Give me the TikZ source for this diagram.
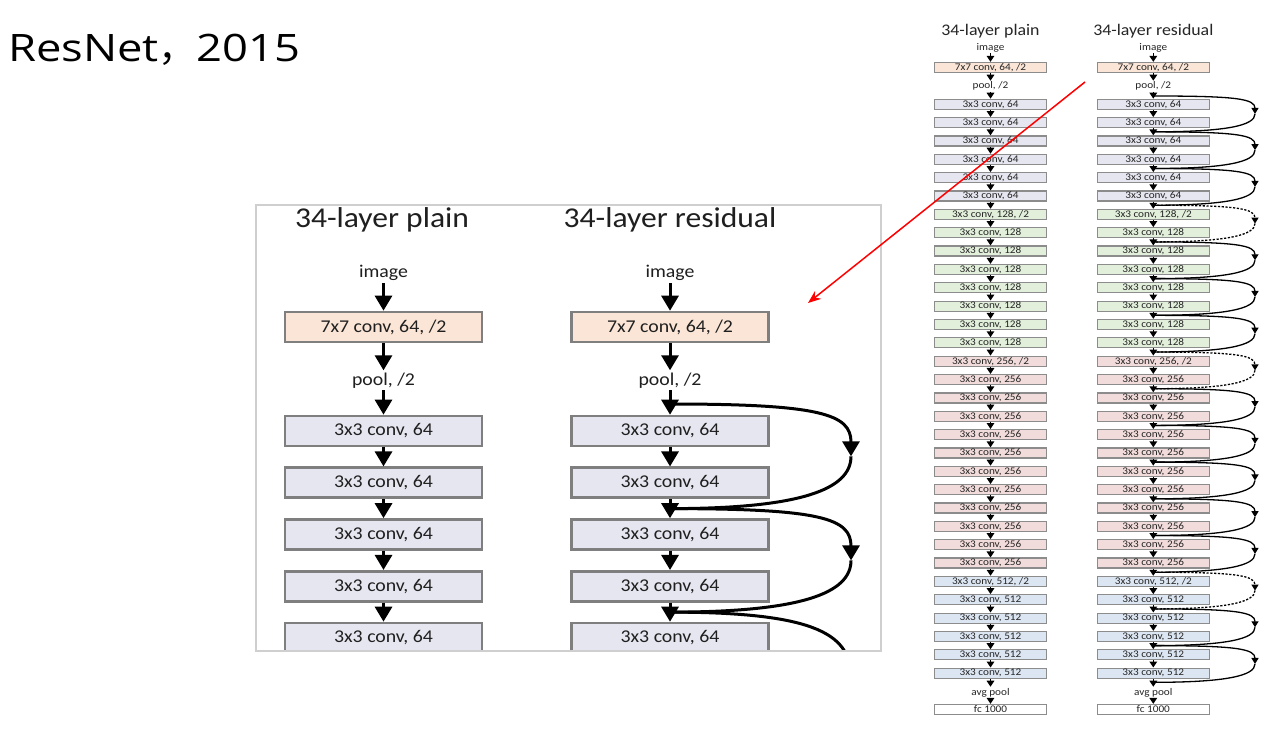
\documentclass[tikz,border=0pt]{standalone}
\usepackage{fontspec}
\usetikzlibrary{arrows.meta,calc}
\setmainfont{Carlito}
\newfontfamily\calfont[FakeStretch=1.1]{Carlito}
\newfontfamily\titlefont[FakeStretch=1.2]{Open Sans}
\newfontfamily\cjkfont{Noto Sans CJK SC}
\definecolor{bgray}{HTML}{7F7F7F}
\definecolor{framegray}{HTML}{CFCFCF}
\definecolor{cS}{HTML}{FBE5D6}
\definecolor{cA}{HTML}{E6E6F0}
\definecolor{cB}{HTML}{E2EFDA}
\definecolor{cC}{HTML}{F2DCDB}
\definecolor{cD}{HTML}{DCE6F2}
\begin{document}
\begin{tikzpicture}[x=1pt,y=-1pt,
  lbox/.style={draw=bgray, line width=2.6pt, minimum width=197pt, minimum height=30pt, inner sep=0pt, text=black!88, font=\calfont\fontsize{18}{20}\selectfont},
  llab/.style={inner sep=2pt, text=black!88, font=\calfont\fontsize{18}{20}\selectfont},
  ltitle/.style={inner sep=0pt, text=black!88, font=\calfont\fontsize{28.7}{32}\selectfont},
  larr/.style={line width=3pt, -{Triangle[width=17pt,length=15pt]}},
  lskip/.style={line width=3pt},
  ltip/.style={-{Triangle[width=17pt,length=15pt]}},
  sbox/.style={draw=bgray!90, line width=1.2pt, minimum width=112pt, minimum height=10pt, inner sep=0pt, text=black!85, font=\calfont\fontsize{10.2}{10}\selectfont},
  slab/.style={inner sep=1pt, text=black!85, font=\calfont\fontsize{10.2}{10}\selectfont},
  stitle/.style={inner sep=0pt, text=black!85, font=\calfont\fontsize{16.2}{18}\selectfont},
  sarr/.style={line width=1.6pt, -{Triangle[width=7.5pt,length=6pt]}},
  sskip/.style={line width=1.3pt},
  stip/.style={-{Triangle[width=7pt,length=6pt]}},
  nsk/.style={},
  dsk/.style={dash pattern=on 2.2pt off 1.6pt}
]
\useasboundingbox (0,0) rectangle (1267,730);
\fill[white] (0,0) rectangle (1267,730);

% main title
\node[anchor=base west, inner sep=0pt, font=\titlefont\fontsize{37.8}{40}\selectfont] (title) at (8,62) {ResNet{\cjkfont ，}2015};

% ---------------- enlarged panel ----------------
\begin{scope}
\clip (256,205) rectangle (881,651);
\node[ltitle, anchor=base] (lt1) at (382,228) {34-layer plain};
\node[ltitle, anchor=base] (lt2) at (670,228) {34-layer residual};
\foreach \c/\n in {383.5/p, 670/r}{
  \node[llab, anchor=base] (l\n img) at (\c,278) {image};
  \node[lbox, fill=cS] (l\n s) at (\c,327) {7x7 conv, 64, /2};
  \node[llab, anchor=base] (l\n pool) at (\c,385) {pool, /2};
  \foreach \i in {0,...,5}{
    \pgfmathsetmacro{\yy}{431+51.75*\i}
    \node[lbox, fill=cA] (l\n\i) at (\c,\yy) {3x3 conv, 64};
  }
  \draw[larr] (l\n img) -- (l\n s);
  \draw[larr] (l\n s) -- (l\n pool);
  \draw[larr] (l\n pool) -- (l\n0);
  \foreach \i [evaluate=\i as \j using int(\i+1)] in {0,...,4}{
    \draw[larr] (l\n\i) -- (l\n\j);
  }
}
\foreach \k in {0,1,2}{
  \pgfmathsetmacro{\ya}{\k==0 ? 404 : 431+51.75*(2*\k-1)+25.875}
  \pgfmathsetmacro{\yb}{431+51.75*(2*\k+1)+25.875}
  \pgfmathsetmacro{\ym}{\k==2 ? \ya+66 : (\ya+\yb)/2}
  \coordinate (ls\k) at (670,\ya);
  \coordinate (le\k) at (670,\yb);
  \coordinate (lm\k) at (851,\ym);
  \ifnum\k<2
    \draw[lskip, ltip] (ls\k) .. controls ($(ls\k)+(151,0)$) and ($(lm\k)+(0,-42)$) .. (lm\k);
  \else
    \draw[lskip] (ls\k) .. controls ($(ls\k)+(151,0)$) and ($(lm\k)+(0,-42)$) .. (lm\k);
  \fi
  \draw[lskip] (lm\k) .. controls ($(lm\k)+(0,33)$) and ($(le\k)+(131,0)$) .. (le\k);
}
\end{scope}
\draw[framegray, line width=1.3pt] (256,205) rectangle (881,651);

% ---------------- full network ----------------
\foreach \c/\n in {990.5/p, 1153.3/r}{
  \node[slab, anchor=base] (s\n img) at (\c,50.5) {image};
  \node[sbox, fill=cS] (s\n s) at (\c,67.5) {7x7 conv, 64, /2};
  \node[slab, anchor=base] (s\n pool) at (\c,89) {pool, /2};
  \foreach \i in {0,...,31}{
    \pgfmathsetmacro{\yy}{104.3+18.35*\i}
    \ifnum\i<6 \def\ch{64}\def\fc{cA}\else
      \ifnum\i<14 \def\ch{128}\def\fc{cB}\else
        \ifnum\i<26 \def\ch{256}\def\fc{cC}\else \def\ch{512}\def\fc{cD}\fi\fi\fi
    \def\sfx{}
    \ifnum\i=6 \def\sfx{, /2}\fi
    \ifnum\i=14 \def\sfx{, /2}\fi
    \ifnum\i=26 \def\sfx{, /2}\fi
    \node[sbox, fill=\fc] (s\n\i) at (\c,\yy) {3x3 conv, \ch\sfx};
  }
  \node[slab, anchor=base] (s\n avg) at (\c,695) {avg pool};
  \node[sbox, fill=white] (s\n fc) at (\c,709.5) {fc 1000};
  \draw[sarr] (s\n img) -- (s\n s);
  \draw[sarr] (s\n s) -- (s\n pool);
  \draw[sarr] (s\n pool) -- (s\n0);
  \foreach \i [evaluate=\i as \j using int(\i+1)] in {0,...,30}{
    \draw[sarr] (s\n\i) -- (s\n\j);
  }
  \draw[sarr] (s\n31) -- (s\n avg);
  \draw[sarr] (s\n avg) -- (s\n fc);
}
\node[stitle, anchor=base] (st1) at (990.5,36) {34-layer plain};
\node[stitle, anchor=base] (st2) at (1153.3,36) {34-layer residual};

\foreach \k in {0,...,15}{
  \pgfmathsetmacro{\ya}{\k==0 ? 96 : 104.3+18.35*(2*\k-1)+9.175}
  \pgfmathsetmacro{\yb}{104.3+18.35*(2*\k+1)+9.175}
  \pgfmathsetmacro{\ym}{(\ya+\yb)/2}
  \coordinate (rs\k) at (1153.3,\ya);
  \coordinate (re\k) at (1153.3,\yb);
  \coordinate (rm\k) at (1255,\ym);
  \def\sty{nsk}
  \ifnum\k=3 \def\sty{dsk}\fi
  \ifnum\k=7 \def\sty{dsk}\fi
  \ifnum\k=13 \def\sty{dsk}\fi
  \draw[sskip, \sty, stip] (rs\k) .. controls ($(rs\k)+(84,0)$) and ($(rm\k)+(0,-15)$) .. (rm\k);
  \draw[sskip, \sty] (rm\k) .. controls ($(rm\k)+(0,11.7)$) and ($(re\k)+(73,0)$) .. (re\k);
}

% red pointer
\coordinate (ra) at (1085,82);
\coordinate (rb) at (808,303);
\draw[red, line width=1.5pt, -{Stealth[length=13pt,width=10pt]}] (ra) -- (rb);
\end{tikzpicture}
\end{document}
